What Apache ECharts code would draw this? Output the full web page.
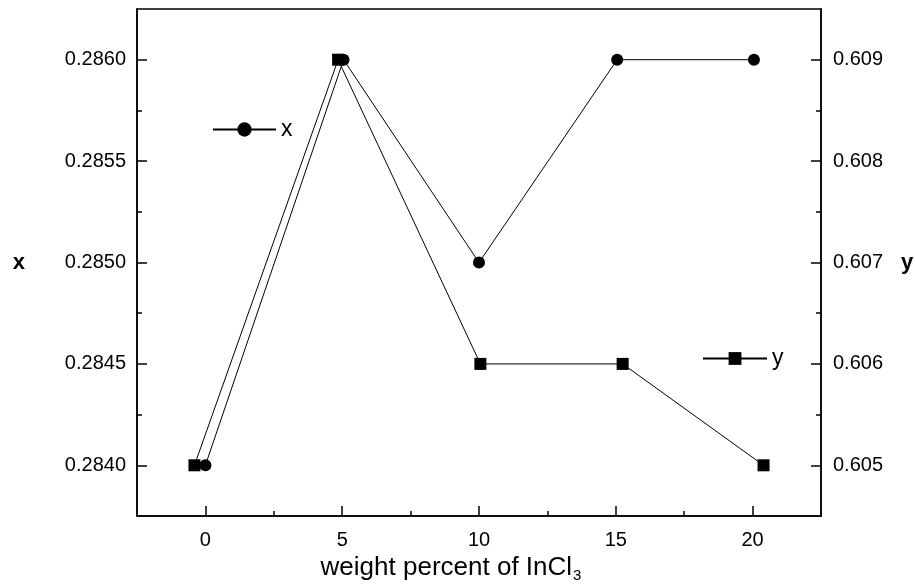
<!DOCTYPE html>
<html>
<head>
<meta charset="utf-8">
<script src="https://cdn.jsdelivr.net/npm/echarts@6/dist/echarts.min.js"></script>
<style>
  html, body { margin: 0; padding: 0; background: #fff; }
  #chart { width: 915px; height: 586px; }
</style>
</head>
<body>
<div id="chart"></div>
<script>
// x 参数 (圆点, 左轴)
const circleWeight = [0, 5.05, 10, 15.05, 20.05]
const circleX = [0.2840, 0.2860, 0.2850, 0.2860, 0.2860]
// y 参数 (方块, 右轴)
const squareWeight = [-0.4, 4.85, 10.05, 15.25, 20.4]
const squareY = [0.605, 0.609, 0.606, 0.606, 0.605]

// 刻度
const weightTicks = [0, 5, 10, 15, 20]
const weightMinor = [2.5, 7.5, 12.5, 17.5]
const xTicks = [0.2840, 0.2845, 0.2850, 0.2855, 0.2860]
const xMinor = [0.28425, 0.28475, 0.28525, 0.28575]
const yTicks = [0.605, 0.606, 0.607, 0.608, 0.609]
const yMinor = [0.6055, 0.6065, 0.6075, 0.6085]

const font = 'Liberation Sans, Arial, sans-serif'
const pair = (xs, ys) => xs.map((v, i) => [v, ys[i]])

const chart = echarts.init(document.getElementById('chart'))

const labelStyle = { color: '#000', fontSize: 20, fontFamily: font }
const line = { show: true, onZero: false, lineStyle: { color: '#000', width: 1.5 } }
const noLine = { show: false, onZero: false }
const tick = (vals, len) => ({
  show: true, inside: true, length: len, customValues: vals,
  lineStyle: { color: '#000', width: 1.5 }
})

const option = {
  backgroundColor: '#fff',
  animation: false,
  grid: {
    left: 137, right: 94, top: 9, bottom: 70,
    outerBoundsMode: 'none',
    show: true, borderColor: '#000', borderWidth: 1.5
  },
  legend: [
    {
      data: ['x'], left: 212, top: 118, padding: 0, itemWidth: 63, itemHeight: 18,
      textStyle: { color: '#000', fontSize: 23, fontFamily: font }
    },
    {
      data: ['y'], left: 702, top: 347, padding: 0, itemWidth: 64, itemHeight: 16,
      textStyle: { color: '#000', fontSize: 23, fontFamily: font }
    }
  ],
  xAxis: [
    {
      type: 'value', min: -2.5, max: 22.5,
      name: 'weight percent of InCl{sub|3}',
      nameLocation: 'middle', nameGap: 29,
      nameTextStyle: {
        color: '#000', fontSize: 26, fontFamily: font, padding: [0, 56, 0, 0],
        rich: { sub: { fontSize: 15, fontFamily: font, color: '#000', padding: [16, 0, 0, 1] } }
      },
      axisLine: line,
      axisTick: tick(weightTicks, 10),
      axisLabel: { customValues: weightTicks, margin: 14, ...labelStyle },
      splitLine: { show: false }
    },
    {
      type: 'value', min: -2.5, max: 22.5, position: 'bottom',
      axisLine: noLine,
      axisTick: tick(weightMinor, 5),
      axisLabel: { show: false },
      splitLine: { show: false }
    }
  ],
  yAxis: [
    {
      type: 'value', min: 0.28375, max: 0.28625, position: 'left',
      name: 'x', nameLocation: 'middle', nameRotate: 0, nameGap: 112,
      nameTextStyle: { color: '#000', fontSize: 22, fontWeight: 'bold', fontFamily: font },
      axisLine: line,
      axisTick: tick(xTicks, 10),
      axisLabel: { customValues: xTicks, margin: 11, formatter: v => v.toFixed(4), ...labelStyle },
      splitLine: { show: false }
    },
    {
      type: 'value', min: 0.6045, max: 0.6095, position: 'right',
      name: 'y', nameLocation: 'middle', nameRotate: 0, nameGap: 80,
      nameTextStyle: { color: '#000', fontSize: 22, fontWeight: 'bold', fontFamily: font },
      axisLine: line,
      axisTick: tick(yTicks, 10),
      axisLabel: { customValues: yTicks, margin: 12, formatter: v => v.toFixed(3), ...labelStyle },
      splitLine: { show: false }
    },
    {
      type: 'value', min: 0.28375, max: 0.28625, position: 'left',
      axisLine: noLine,
      axisTick: tick(xMinor, 5),
      axisLabel: { show: false },
      splitLine: { show: false }
    },
    {
      type: 'value', min: 0.6045, max: 0.6095, position: 'right',
      axisLine: noLine,
      axisTick: tick(yMinor, 5),
      axisLabel: { show: false },
      splitLine: { show: false }
    }
  ],
  series: [
    {
      name: 'x', type: 'line', xAxisIndex: 0, yAxisIndex: 0,
      data: pair(circleWeight, circleX),
      symbol: 'circle', symbolSize: 12,
      itemStyle: { color: '#000' },
      lineStyle: { color: '#000', width: 1 }
    },
    {
      name: 'y', type: 'line', xAxisIndex: 0, yAxisIndex: 1,
      data: pair(squareWeight, squareY),
      symbol: 'rect', symbolSize: 12,
      itemStyle: { color: '#000' },
      lineStyle: { color: '#000', width: 1 }
    }
  ]
}

chart.setOption(option)
</script>
</body>
</html>
